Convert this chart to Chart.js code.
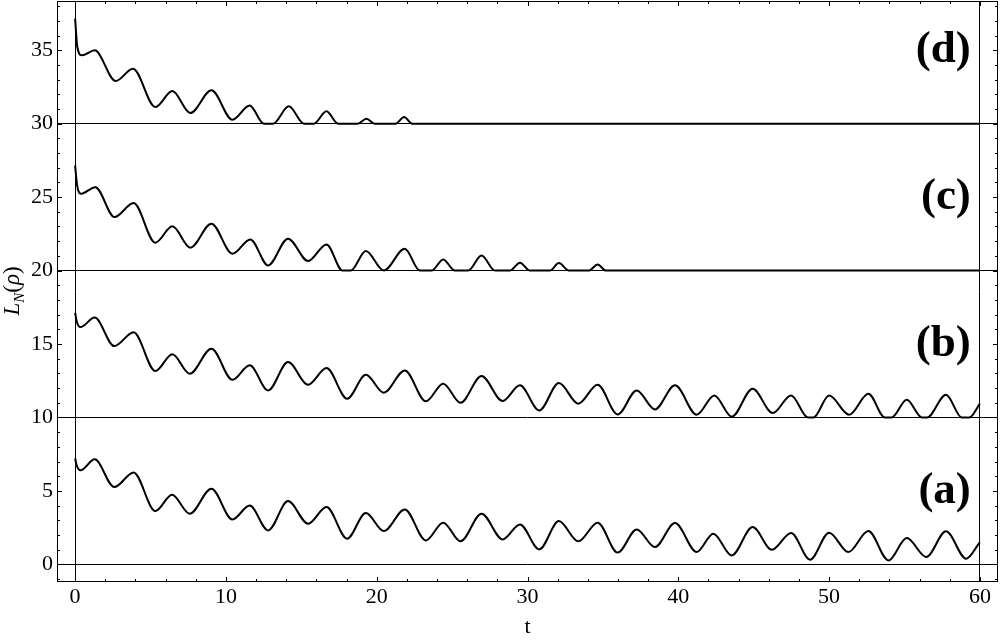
<!DOCTYPE html>
<html>
<head>
<meta charset="utf-8">
<script src="https://cdn.jsdelivr.net/npm/chart.js@4.4.1/dist/chart.umd.min.js"></script>
<style>
  body { margin: 0; background: #fff; }
  #box { width: 1000px; height: 640px; }
</style>
</head>
<body>
<div id="box"><canvas id="grafica"></canvas></div>
<script>
// curva (a)
var tA = [0, 0.12, 0.35, 1.3, 2.6, 3.88, 5.32, 6.43, 7.6, 9.04, 10.43, 11.58, 12.8, 14.12, 15.45, 16.67,
  18.04, 19.28, 20.47, 21.86, 23.26, 24.41, 25.56, 26.95, 28.35, 29.5, 30.78, 32.08, 33.37, 34.65,
  35.98, 37.24, 38.45, 39.78, 41.22, 42.32, 43.54, 44.93, 46.2, 47.48, 48.74, 50.0, 51.28, 52.6,
  53.94, 55.15, 56.44, 57.75, 59.09, 60];
var LA = [7.2, 6.7, 6.4, 7.15, 5.26, 6.26, 3.63, 4.74, 3.45, 5.15, 3.06, 4.0, 2.31, 4.31, 2.77, 3.9,
  1.75, 3.5, 2.27, 3.74, 1.63, 2.84, 1.57, 3.45, 1.7, 2.72, 1.02, 2.95, 1.57, 2.84,
  0.8, 2.38, 1.18, 2.81, 0.84, 2.09, 0.61, 2.54, 1.0, 2.13, 0.32, 2.16, 0.84, 2.27,
  0.27, 1.79, 0.5, 2.25, 0.39, 1.52];

// curva (b)
var tB = [0, 0.12, 0.35, 1.3, 2.6, 3.88, 5.32, 6.45, 7.6, 9.04, 10.43, 11.58, 12.8, 14.12, 15.45, 16.67,
  18.04, 19.28, 20.47, 21.86, 23.26, 24.41, 25.56, 26.95, 28.35, 29.5, 30.78, 32.08, 33.37, 34.65,
  35.98, 37.24, 38.45, 39.78, 41.22, 42.39, 43.54, 44.93, 46.26, 47.48, 48.6, 48.96, 50.0, 51.33,
  52.6, 53.7, 54.15, 55.15, 56.15, 56.5, 57.75, 58.8, 59.3, 60];
var LB = [17.13, 16.5, 16.15, 16.8, 14.86, 15.8, 13.16, 14.3, 12.98, 14.68, 12.57, 13.55, 11.84, 13.77, 12.23, 13.36,
  11.28, 12.91, 11.69, 13.2, 11.1, 12.3, 11.0, 12.82, 11.12, 12.19, 10.48, 12.34, 10.94, 12.23,
  10.21, 11.84, 10.55, 12.19, 10.19, 11.5, 10.05, 11.96, 10.3, 11.5, 10, 10, 11.5, 10.19,
  11.62, 10, 10, 11.21, 10, 10, 11.55, 10, 10, 10.94];

// curva (c)
var tC = [0, 0.15, 0.41, 1.34, 2.62, 3.88, 5.32, 6.45, 7.64, 9.04, 10.43, 11.62, 12.8, 14.12, 15.45, 16.67,
  17.73, 18.28, 19.28, 20.47, 21.86, 22.86, 23.64, 24.41, 25.18, 26.07, 26.95, 27.84, 28.83,
  29.5, 30.16, 31.49, 32.08, 32.75, 34.07, 34.65, 35.2, 60];
var LC = [27.16, 25.7, 25.23, 25.68, 23.64, 24.6, 21.9, 23.01, 21.56, 23.19, 21.15, 22.12, 20.35, 22.17, 20.65, 21.78,
  20, 20, 21.33, 20, 21.49, 20, 20, 20.76, 20, 20, 21.03, 20, 20,
  20.54, 20, 20, 20.51, 20, 20, 20.42, 20, 20];

// curva (d)
var tD = [0, 0.15, 0.45, 1.3, 2.69, 3.84, 5.32, 6.45, 7.64, 9.04, 10.43, 11.58, 12.51, 13.13, 14.17,
  15.18, 15.83, 16.67, 17.44, 18.73, 19.32, 19.87, 21.25, 21.82, 22.35, 60];
var LD = [37.15, 35.2, 34.65, 34.99, 32.9, 33.74, 31.13, 32.22, 30.72, 32.27, 30.27, 31.24, 30, 30, 31.18,
  30, 30, 30.84, 30, 30, 30.34, 30, 30, 30.45, 30, 30];

var xTicks = [0, 10, 20, 30, 40, 50, 60];
var yTicks = [0, 5, 10, 15, 20, 25, 30, 35];
var etiquetas = ['(a)', '(b)', '(c)', '(d)'];
var etiquetaY = [5, 15, 25, 35];

var serif = '"Liberation Serif", "Times New Roman", serif';

function puntos(ts, ls) {
  return ts.map(function (t, i) { return { x: t, y: ls[i] }; });
}

function curva(ts, ls) {
  return {
    data: puntos(ts, ls),
    borderColor: '#000',
    borderWidth: 2,
    pointRadius: 0,
    fill: false,
    cubicInterpolationMode: 'monotone'
  };
}

// marco, marcas hacia adentro, (a)-(d) y titulo del eje y
var marco = {
  id: 'marco',
  afterDatasetsDraw: function (chart) {
    var ctx = chart.ctx, a = chart.chartArea, x = chart.scales.x, y = chart.scales.y;
    ctx.save();
    ctx.strokeStyle = '#000';
    ctx.lineWidth = 1;
    ctx.strokeRect(a.left + 0.5, a.top + 0.5, a.right - a.left - 1, a.bottom - a.top - 1);
    ctx.beginPath();
    for (var t = 0; t <= 60; t += 2) {
      var px = Math.round(x.getPixelForValue(t)) + 0.5;
      var lx = t % 10 === 0 ? 5 : 3;
      ctx.moveTo(px, a.bottom); ctx.lineTo(px, a.bottom - lx);
      ctx.moveTo(px, a.top); ctx.lineTo(px, a.top + lx);
    }
    for (var v = -1; v <= 38; v++) {
      var py = Math.round(y.getPixelForValue(v)) + 0.5;
      var ly = v % 5 === 0 ? 5 : 3;
      ctx.moveTo(a.left, py); ctx.lineTo(a.left + ly, py);
      ctx.moveTo(a.right, py); ctx.lineTo(a.right - ly, py);
    }
    ctx.stroke();

    ctx.fillStyle = '#000';
    ctx.font = 'bold 45px ' + serif;
    ctx.textAlign = 'right';
    ctx.textBaseline = 'middle';
    etiquetas.forEach(function (s, i) {
      ctx.fillText(s, x.getPixelForValue(59.4), y.getPixelForValue(etiquetaY[i]));
    });

    // L_N(rho)
    var partes = [
      { s: 'L', f: 'italic 23px ' + serif, dy: 0 },
      { s: 'N', f: 'italic 15px ' + serif, dy: 5 },
      { s: '(', f: '23px ' + serif, dy: 0 },
      { s: '\u03C1', f: 'italic 23px ' + serif, dy: 0 },
      { s: ')', f: '23px ' + serif, dy: 0 }
    ];
    var ancho = 0;
    partes.forEach(function (p) { ctx.font = p.f; p.w = ctx.measureText(p.s).width; ancho += p.w; });
    ctx.translate(19, 291);
    ctx.rotate(-Math.PI / 2);
    ctx.textAlign = 'left';
    ctx.textBaseline = 'alphabetic';
    var cx = -ancho / 2;
    partes.forEach(function (p) {
      ctx.font = p.f;
      ctx.fillText(p.s, cx, p.dy);
      cx += p.w;
    });
    ctx.restore();
  }
};

new Chart(document.getElementById('grafica'), {
  type: 'line',
  data: {
    datasets: [curva(tA, LA), curva(tB, LB), curva(tC, LC), curva(tD, LD)]
  },
  options: {
    responsive: true,
    maintainAspectRatio: false,
    animation: false,
    layout: { padding: { top: 1, right: 2, left: 0, bottom: 0 } },
    plugins: { legend: { display: false }, tooltip: { enabled: false } },
    scales: {
      x: {
        type: 'linear',
        min: -1.2,
        max: 61.2,
        afterBuildTicks: function (s) { s.ticks = xTicks.map(function (v) { return { value: v }; }); },
        afterFit: function (s) { s.height = 58; s.paddingLeft = 0; s.paddingRight = 0; },
        border: { display: false },
        grid: {
          drawTicks: false,
          lineWidth: 1,
          color: function (c) { return (c.tick && (c.tick.value === 0 || c.tick.value === 60)) ? '#000' : 'rgba(0,0,0,0)'; }
        },
        ticks: { color: '#000', padding: 2, maxRotation: 0, font: { family: serif, size: 22 } },
        title: { display: true, text: 't', color: '#000', padding: 0, font: { family: serif, size: 22 } }
      },
      y: {
        type: 'linear',
        min: -1.2,
        max: 38.35,
        afterBuildTicks: function (s) { s.ticks = yTicks.map(function (v) { return { value: v }; }); },
        afterFit: function (s) { s.width = 57; s.paddingTop = 0; s.paddingBottom = 0; },
        border: { display: false },
        grid: {
          drawTicks: false,
          lineWidth: 1,
          color: function (c) { return (c.tick && c.tick.value % 10 === 0) ? '#000' : 'rgba(0,0,0,0)'; }
        },
        ticks: { color: '#000', padding: 4, font: { family: serif, size: 22 } }
      }
    }
  },
  plugins: [marco]
});
</script>
</body>
</html>
